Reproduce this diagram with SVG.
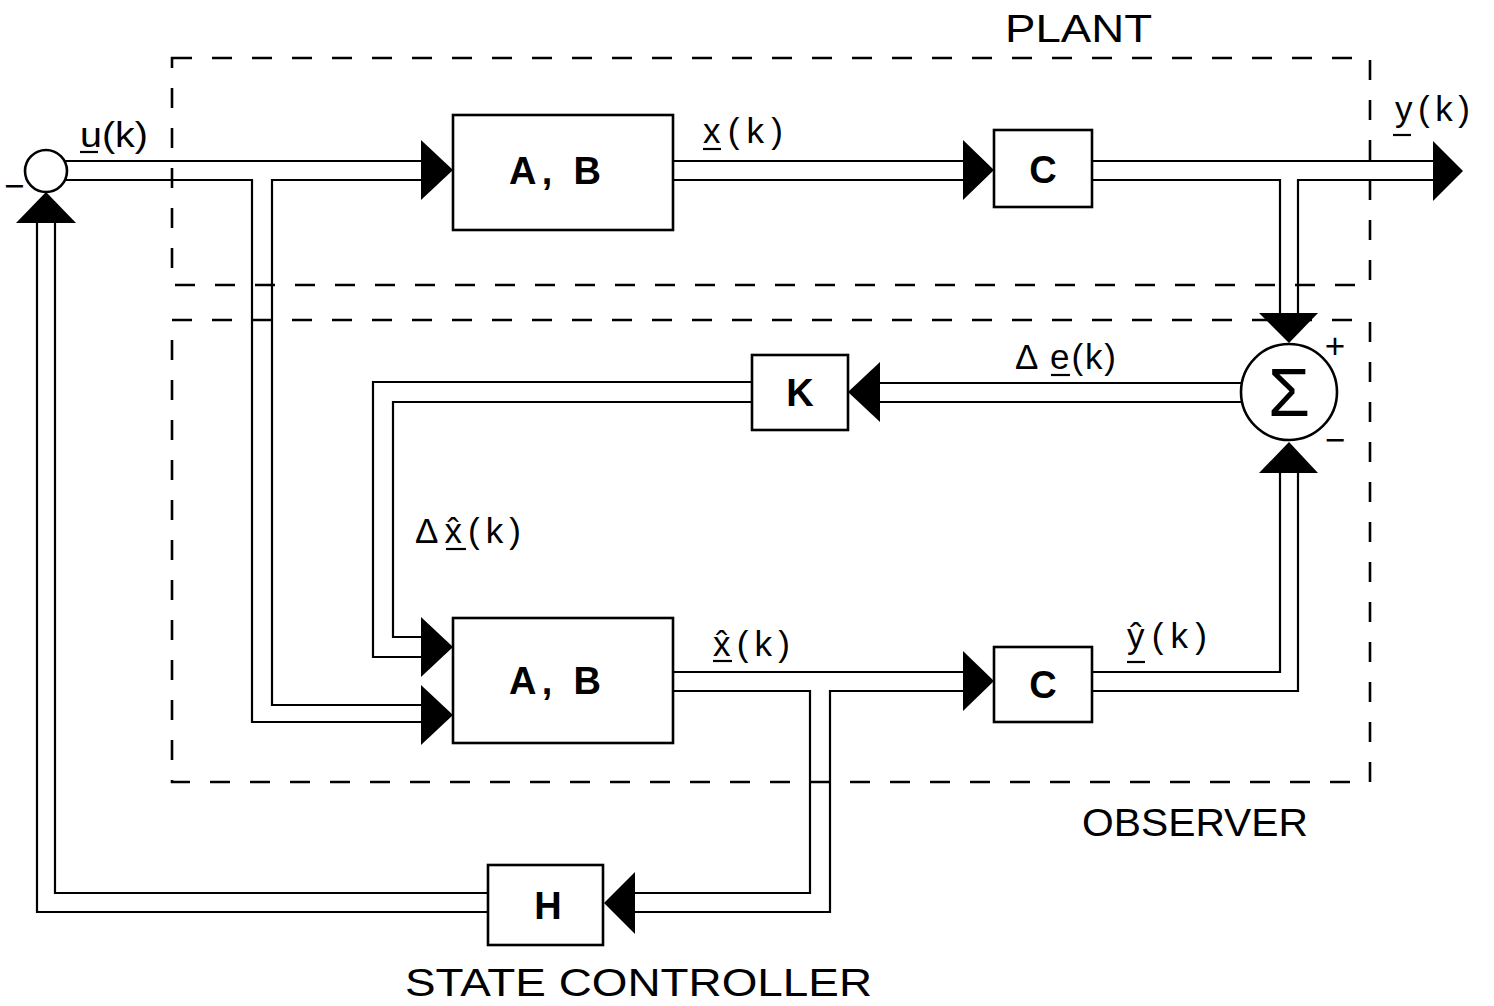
<svg xmlns="http://www.w3.org/2000/svg" width="1494" height="1006" viewBox="0 0 1494 1006">
<style>
.bg{fill:#fff}
.dash{fill:none;stroke:#000;stroke-width:2.6;stroke-dasharray:20 20}
.blk{fill:#fff;stroke:#000;stroke-width:2.6}
.ln{fill:none;stroke:#000;stroke-width:2.2;stroke-linejoin:miter}
.ah{fill:#000;stroke:none}
.bl{font-family:"Liberation Sans",Arial,sans-serif;font-weight:bold;font-size:38px;fill:#000}
.lb{font-family:"Liberation Sans",Arial,sans-serif;font-size:35px;fill:#000}
.ttl{font-family:"Liberation Sans",Arial,sans-serif;font-size:38px;fill:#000}
.ul{stroke:#000;stroke-width:2.2}
</style>
<rect class="bg" x="0" y="0" width="1494" height="1006"/>

<g id="plant-frame">
<rect class="dash" x="172" y="58" width="1198" height="227"/>
<text class="ttl" x="1005" y="42" textLength="147" lengthAdjust="spacingAndGlyphs">PLANT</text>
</g>
<g id="observer-frame">
<rect class="dash" x="172" y="320" width="1198" height="462"/>
<text class="ttl" x="1082" y="836" textLength="226" lengthAdjust="spacingAndGlyphs">OBSERVER</text>
</g>

<g id="connectors">
<!-- u(k) bus -->
<path class="ln" d="M65,161 H421"/>
<path class="ln" d="M65,180 H252 V722 H421"/>
<path class="ln" d="M421,180 H272 V705 H421"/>
<!-- x(k) -->
<path class="ln" d="M673,161 H963"/>
<path class="ln" d="M673,180 H963"/>
<!-- y(k) -->
<path class="ln" d="M1092,161 H1433"/>
<path class="ln" d="M1092,180 H1280 V313"/>
<path class="ln" d="M1433,180 H1298 V313"/>
<!-- delta e -->
<path class="ln" d="M1242,383 H880"/>
<path class="ln" d="M1242,402 H880"/>
<!-- delta xhat -->
<path class="ln" d="M752,382 H373 V657 H421"/>
<path class="ln" d="M752,402 H393 V637 H421"/>
<!-- xhat -->
<path class="ln" d="M673,672 H963"/>
<path class="ln" d="M673,691 H810 V893 H635"/>
<path class="ln" d="M963,691 H830 V912 H635"/>
<!-- yhat -->
<path class="ln" d="M1092,672 H1280 V473"/>
<path class="ln" d="M1092,691 H1298 V473"/>
<!-- feedback -->
<path class="ln" d="M488,893 H55 V223"/>
<path class="ln" d="M488,912 H37 V223"/>
<!-- arrowheads -->
<polygon class="ah" points="421,140 421,200 453,170"/>
<polygon class="ah" points="963,140 963,200 994,170"/>
<polygon class="ah" points="1433,141 1433,201 1463,171"/>
<polygon class="ah" points="16,223 76,223 46,192"/>
<polygon class="ah" points="1259,313 1318,313 1289,343"/>
<polygon class="ah" points="1259,473 1318,473 1289,442"/>
<polygon class="ah" points="880,362 880,422 848,392"/>
<polygon class="ah" points="421,617 421,677 453,647"/>
<polygon class="ah" points="421,685 421,745 453,715"/>
<polygon class="ah" points="963,651 963,711 994,681"/>
<polygon class="ah" points="635,872 635,934 604,903"/>
</g>

<g id="sum-input">
<circle class="blk" cx="46" cy="171" r="21"/>
<text class="lb" x="4" y="198" font-size="30">−</text>
</g>
<g id="plant-AB">
<rect class="blk" x="453" y="115" width="220" height="115"/>
<text class="bl" x="509" y="184" textLength="92" lengthAdjust="spacing">A, B</text>
</g>
<g id="plant-C">
<rect class="blk" x="994" y="130" width="98" height="77"/>
<text class="bl" x="1043" y="183" text-anchor="middle">C</text>
</g>
<g id="sigma">
<circle class="blk" cx="1289" cy="392" r="48"/>
<text x="1289" y="416" text-anchor="middle" font-family="Liberation Sans,Arial,sans-serif" font-size="68">Σ</text>
<text class="lb" x="1335" y="358" text-anchor="middle" font-size="30">+</text>
<text class="lb" x="1335" y="452" text-anchor="middle" font-size="30">−</text>
</g>
<g id="K">
<rect class="blk" x="752" y="355" width="96" height="75"/>
<text class="bl" x="800" y="406" text-anchor="middle">K</text>
</g>
<g id="observer-AB">
<rect class="blk" x="453" y="618" width="220" height="125"/>
<text class="bl" x="509" y="694" textLength="92" lengthAdjust="spacing">A, B</text>
</g>
<g id="observer-C">
<rect class="blk" x="994" y="647" width="98" height="75"/>
<text class="bl" x="1043" y="698" text-anchor="middle">C</text>
</g>
<g id="H">
<rect class="blk" x="488" y="865" width="115" height="80"/>
<text class="bl" x="548" y="919" text-anchor="middle">H</text>
<text class="ttl" x="405" y="996" font-size="42" textLength="467" lengthAdjust="spacingAndGlyphs">STATE CONTROLLER</text>
</g>

<g id="labels">
<text class="lb" x="80" y="147" textLength="68" lengthAdjust="spacingAndGlyphs">u(k)</text>
<line class="ul" x1="80" y1="152" x2="98" y2="152"/>
<text class="lb" x="703" y="143" textLength="80" lengthAdjust="spacing">x(k)</text>
<line class="ul" x1="703" y1="149" x2="721" y2="149"/>
<text class="lb" x="1395" y="121" textLength="75" lengthAdjust="spacing">y(k)</text>
<line class="ul" x1="1393" y1="135" x2="1411" y2="135"/>
<text class="lb" x="1015" y="369" textLength="101" lengthAdjust="spacing">Δ e(k)</text>
<line class="ul" x1="1051" y1="375" x2="1070" y2="375"/>
<text class="lb" x="415" y="543" textLength="106" lengthAdjust="spacing">Δx̂(k)</text>
<line class="ul" x1="446" y1="549" x2="466" y2="549"/>
<text class="lb" x="713" y="656" textLength="77" lengthAdjust="spacing">x̂(k)</text>
<line class="ul" x1="713" y1="661" x2="732" y2="661"/>
<text class="lb" x="1127" y="648" textLength="80" lengthAdjust="spacing">ŷ(k)</text>
<line class="ul" x1="1127" y1="662" x2="1145" y2="662"/>
</g>
</svg>
